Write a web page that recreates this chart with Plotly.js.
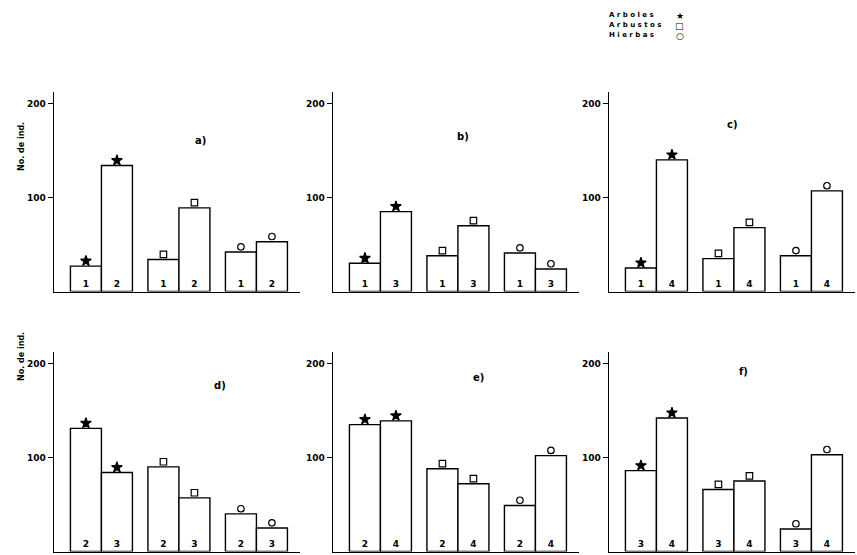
<!DOCTYPE html>
<html><head><meta charset="utf-8">
<script src="https://cdn.plot.ly/plotly-3.0.1.min.js"></script>
<style>html,body{margin:0;padding:0;background:#fff}#chart{width:857px;height:555px}</style>
</head><body><div id="chart"></div>
<script>
// ---- data ----
const panelTitles = ['a)', 'b)', 'c)', 'd)', 'e)', 'f)'];
const groups = ['Arboles', 'Arbustos', 'Hierbas'];
const legendSymbols = ['\u2605', '\u25A1', '\u25CB'];
const yTickVals = [100, 200];
const yTickText = ['100', '200'];
const yTitle = 'No. de ind.';

// values: [Arboles s1, Arboles s2, Arbustos s1, Arbustos s2, Hierbas s1, Hierbas s2]
const valuesA = [27, 134, 34, 89, 42, 53];
const valuesB = [30, 85, 38, 70, 41, 24];
const valuesC = [25, 140, 35, 68, 38, 107];
const valuesD = [131, 84, 90, 57, 40, 25];
const valuesE = [135, 139, 88, 72, 49, 102];
const valuesF = [86, 142, 66, 75, 24, 103];

// site numbers written inside the bars
const sitesA = ['1', '2'];
const sitesB = ['1', '3'];
const sitesC = ['1', '4'];
const sitesD = ['2', '3'];
const sitesE = ['2', '4'];
const sitesF = ['3', '4'];

const allValues = [valuesA, valuesB, valuesC, valuesD, valuesE, valuesF];
const allSites = [sitesA, sitesB, sitesC, sitesD, sitesE, sitesF];

// ---- layout helpers ----
const W = 857, H = 555;
const colLeft = [54, 333, 609];
const rowBase = [291.5, 551.5];
const xRange = [-1.03, 6.9], xUnit = 31;
const yRange = [0, 212], yUnit = 0.94;
const titlePos = [[193,133],[463,129],[740,117],[212,393],[479,385],[750,379]];
const FONT = 'DejaVu Sans, sans-serif';
const symbolOf = ['star', 'square-open', 'circle-open'];
const symSize = [8, 6.5, 6.5];

const traces = [];
const layout = {
  width: W, height: H, margin: {l:0, r:0, t:0, b:0},
  paper_bgcolor: '#fff', plot_bgcolor: 'rgba(0,0,0,0)',
  showlegend: false, annotations: [], font: {family: FONT, color: '#000'}
};

allValues.forEach((vals, p) => {
  const col = p % 3, row = Math.floor(p / 3);
  const n = p + 1;
  const xa = 'xaxis' + (n === 1 ? '' : n), ya = 'yaxis' + (n === 1 ? '' : n);
  const xr = 'x' + (n === 1 ? '' : n), yr = 'y' + (n === 1 ? '' : n);
  const xs = [], txt = [], syms = [], sizes = [], ys = [];
  vals.forEach((v, i) => {
    const g = Math.floor(i / 2), s = i % 2;
    xs.push(g * 2.5 + s);
    txt.push(allSites[p][s]);
    syms.push(symbolOf[g]); sizes.push(symSize[g]);
    ys.push(v + 5.5);
  });
  traces.push({
    type: 'bar', x: xs, y: vals, width: 1, xaxis: xr, yaxis: yr,
    text: txt, textposition: 'inside', insidetextanchor: 'start',
    textangle: 0,
    textfont: {family: FONT, size: 9, color: '#000', weight: 'bold'},
    marker: {color: '#fff', line: {color: '#000', width: 1.4}},
    hoverinfo: 'none'
  });
  traces.push({
    type: 'scatter', mode: 'markers', x: xs, y: ys, xaxis: xr, yaxis: yr,
    marker: {symbol: syms, size: sizes, color: '#000', opacity: 1, line: {color: '#000', width: 1.2}},
    hoverinfo: 'none'
  });
  const left = colLeft[col], base = rowBase[row];
  const right = left + (xRange[1] - xRange[0]) * xUnit;
  const top = base - (yRange[1] - yRange[0]) * yUnit;
  layout[xa] = {
    domain: [left / W, right / W], range: xRange, anchor: yr,
    showgrid: false, zeroline: false, showticklabels: false, ticks: '',
    showline: true, linecolor: '#000', linewidth: 1.4, fixedrange: true
  };
  layout[ya] = {
    domain: [1 - base / H, 1 - top / H], range: yRange, anchor: xr,
    showgrid: false, zeroline: false, tickvals: yTickVals, ticktext: yTickText,
    ticks: 'outside', ticklen: 5, tickwidth: 1.3, tickcolor: '#000',
    tickfont: {family: FONT, size: 9, color: '#000', weight: 'bold'},
    showline: true, linecolor: '#000', linewidth: 1.4, fixedrange: true
  };
  layout.annotations.push({
    text: panelTitles[p], xref: 'paper', yref: 'paper',
    x: titlePos[p][0] / W, y: 1 - titlePos[p][1] / H,
    showarrow: false, font: {family: FONT, size: 10, color: '#000', weight: 'bold'}
  });
});

// y-axis titles (left column only)
[120, 383].forEach(py => {
  layout.annotations.push({
    text: yTitle, xref: 'paper', yref: 'paper', x: 15 / W, y: 1 - py / H,
    textangle: -90, showarrow: false,
    font: {family: FONT, size: 8, color: '#000', weight: 'bold'}
  });
});

// legend
groups.forEach((g, i) => {
  const py = 9 + i * 10;
  layout.annotations.push({
    text: g.split('').join(' '), xref: 'paper', yref: 'paper',
    x: 607 / W, y: 1 - py / H, xanchor: 'left', showarrow: false,
    font: {family: FONT, size: 7, color: '#000', weight: 'bold'}
  });
  layout.annotations.push({
    text: legendSymbols[i], xref: 'paper', yref: 'paper',
    x: 686 / W, y: 1 - py / H, showarrow: false,
    font: {family: FONT, size: 9, color: '#000'}
  });
});

Plotly.newPlot('chart', traces, layout, {staticPlot: true, displayModeBar: false});
</script></body></html>
